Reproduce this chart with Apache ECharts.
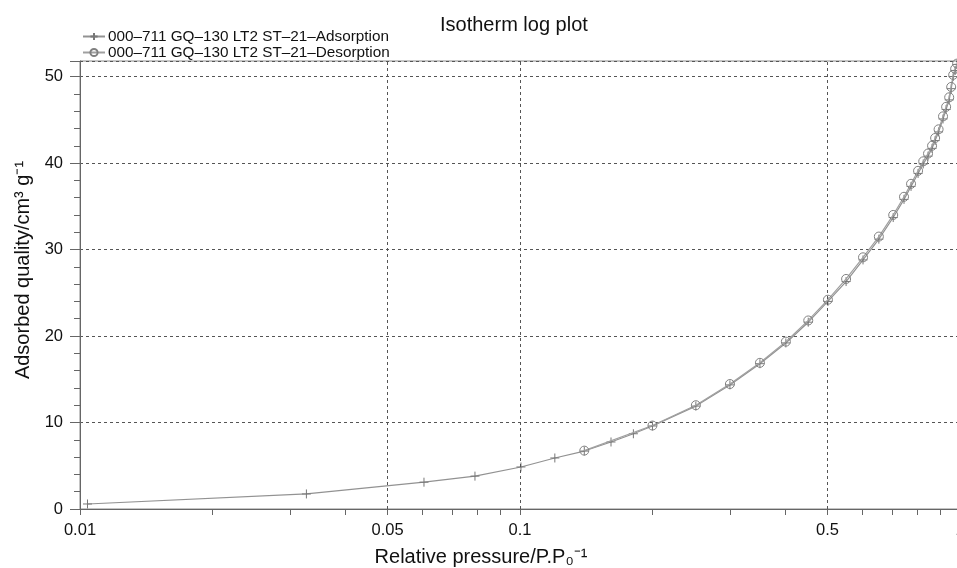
<!DOCTYPE html>
<html>
<head>
<meta charset="utf-8">
<script src="https://cdn.jsdelivr.net/npm/echarts@6/dist/echarts.min.js"></script>
<style>
  html, body { margin: 0; padding: 0; background: #fff; }
  #chart { width: 957px; height: 568px; }
</style>
</head>
<body>
<div id="chart"></div>
<script>
// adsorption branch
const adsP = [0.0104, 0.0327, 0.0605, 0.079, 0.1005, 0.120, 0.140, 0.161, 0.181, 0.200,
  0.251, 0.300, 0.351, 0.402, 0.452, 0.501, 0.551, 0.602, 0.654, 0.705, 0.746, 0.774,
  0.803, 0.825, 0.846, 0.864, 0.878, 0.894, 0.915, 0.930, 0.945, 0.955, 0.965, 0.975, 0.985]
const adsV = [0.58, 1.74, 3.1, 3.8, 4.86, 5.9, 6.7, 7.75, 8.7, 9.6,
  11.9, 14.35, 16.8, 19.2, 21.6, 24.0, 26.3, 28.8, 31.2, 33.7, 35.8, 37.3,
  38.8, 39.9, 40.8, 41.7, 42.6, 43.6, 45.1, 46.2, 47.3, 48.6, 50.0, 50.7, 51.4]
// desorption branch
const desP = [0.985, 0.975, 0.965, 0.955, 0.945, 0.930, 0.915, 0.894, 0.878, 0.864,
  0.846, 0.825, 0.803, 0.774, 0.746, 0.705, 0.654, 0.602, 0.551, 0.501, 0.452,
  0.402, 0.351, 0.300, 0.251, 0.200, 0.140]
const desV = [51.5, 50.9, 50.2, 48.8, 47.6, 46.5, 45.4, 43.9, 42.9, 42.0,
  41.1, 40.2, 39.1, 37.6, 36.1, 34.0, 31.5, 29.1, 26.6, 24.2, 21.8,
  19.35, 16.9, 14.45, 12.0, 9.65, 6.75]

const xTicks = [0.01, 0.02, 0.03, 0.04, 0.05, 0.06, 0.07, 0.08, 0.09, 0.1,
  0.2, 0.3, 0.4, 0.5, 0.6, 0.7, 0.8, 0.9, 1]
const xLabels = [0.01, 0.05, 0.1, 0.5, 1]
const xGrid = [0.05, 0.1, 0.5]

const FONT = 'Liberation Sans, Arial, sans-serif'
const plus = 'path://M0,5L10,5M5,0L5,10'
const adsName = '000\u2013711 GQ\u2013130 LT2 ST\u201321\u2013Adsorption'
const desName = '000\u2013711 GQ\u2013130 LT2 ST\u201321\u2013Desorption'

const chart = echarts.init(document.getElementById('chart'), null, { renderer: 'canvas' })

chart.setOption({
  animation: false,
  textStyle: { fontFamily: FONT },
  title: {
    text: 'Isotherm log plot',
    left: 435,
    top: 10,
    textStyle: { fontFamily: FONT, fontSize: 20, fontWeight: 'normal', color: '#111' }
  },
  legend: {
    orient: 'vertical',
    left: 77,
    top: 24,
    itemGap: 1,
    itemWidth: 22,
    itemHeight: 9,
    textStyle: { fontFamily: FONT, fontSize: 15.3, color: '#111', padding: [0, 0, 0, -2] },
    data: [adsName, desName]
  },
  grid: {
    left: 80,
    right: -3,
    top: 61,
    bottom: 59,
    outerBoundsMode: 'none',
    containLabel: false,
    show: true,
    borderColor: '#888',
    borderWidth: 1
  },
  xAxis: {
    type: 'log',
    logBase: 10,
    min: 0.01,
    max: 1,
    name: 'Relative pressure/P.P\u2080\u207B\u00B9',
    nameLocation: 'middle',
    nameGap: 38,
    nameTextStyle: { fontFamily: FONT, fontSize: 20, color: '#111', padding: [0, 78, 0, 0] },
    axisLine: { onZero: false, lineStyle: { color: '#666', width: 1 } },
    axisTick: { show: true, inside: false, length: 6, customValues: xTicks, lineStyle: { color: '#666' } },
    axisLabel: {
      customValues: xLabels,
      margin: 13,
      fontFamily: FONT,
      fontSize: 16.5,
      color: '#111',
      formatter: v => String(+v.toPrecision(3))
    },
    splitLine: { show: false },
    minorTick: { show: false }
  },
  yAxis: {
    type: 'value',
    min: 0,
    max: 51.8,
    interval: 10,
    name: 'Adsorbed quality/cm\u00B3 g\u207B\u00B9',
    nameLocation: 'middle',
    nameGap: 43,
    nameTextStyle: { fontFamily: FONT, fontSize: 20, color: '#111', padding: [0, 0, 0, 30] },
    axisLine: { show: true, lineStyle: { color: '#666', width: 1 } },
    axisTick: { show: true, length: 10, lineStyle: { color: '#666' } },
    minorTick: { show: true, splitNumber: 5, length: 6, lineStyle: { color: '#666' } },
    axisLabel: { margin: 17, fontFamily: FONT, fontSize: 16.5, color: '#111', showMaxLabel: false },
    splitLine: { show: true, lineStyle: { color: '#555', type: [3, 3], width: 1 } }
  },
  series: [
    {
      name: adsName,
      type: 'line',
      data: adsP.map((p, i) => [p, adsV[i]]),
      symbol: plus,
      symbolSize: 9,
      showAllSymbol: true,
      lineStyle: { color: '#929292', width: 1.2 },
      itemStyle: { color: 'rgba(0,0,0,0)', borderColor: '#777', borderWidth: 1 },
      z: 3,
      markLine: {
        silent: true,
        symbol: 'none',
        label: { show: false },
        lineStyle: { color: '#555', type: [3, 3], width: 1 },
        data: xGrid.map(x => ({ xAxis: x }))
      }
    },
    {
      name: desName,
      type: 'line',
      data: desP.map((p, i) => [p, desV[i]]),
      symbol: 'circle',
      symbolSize: 9,
      showAllSymbol: true,
      lineStyle: { color: '#a0a0a0', width: 1.2 },
      itemStyle: { color: 'rgba(0,0,0,0)', borderColor: '#808080', borderWidth: 1 },
      z: 4
    }
  ]
})
</script>
</body>
</html>
